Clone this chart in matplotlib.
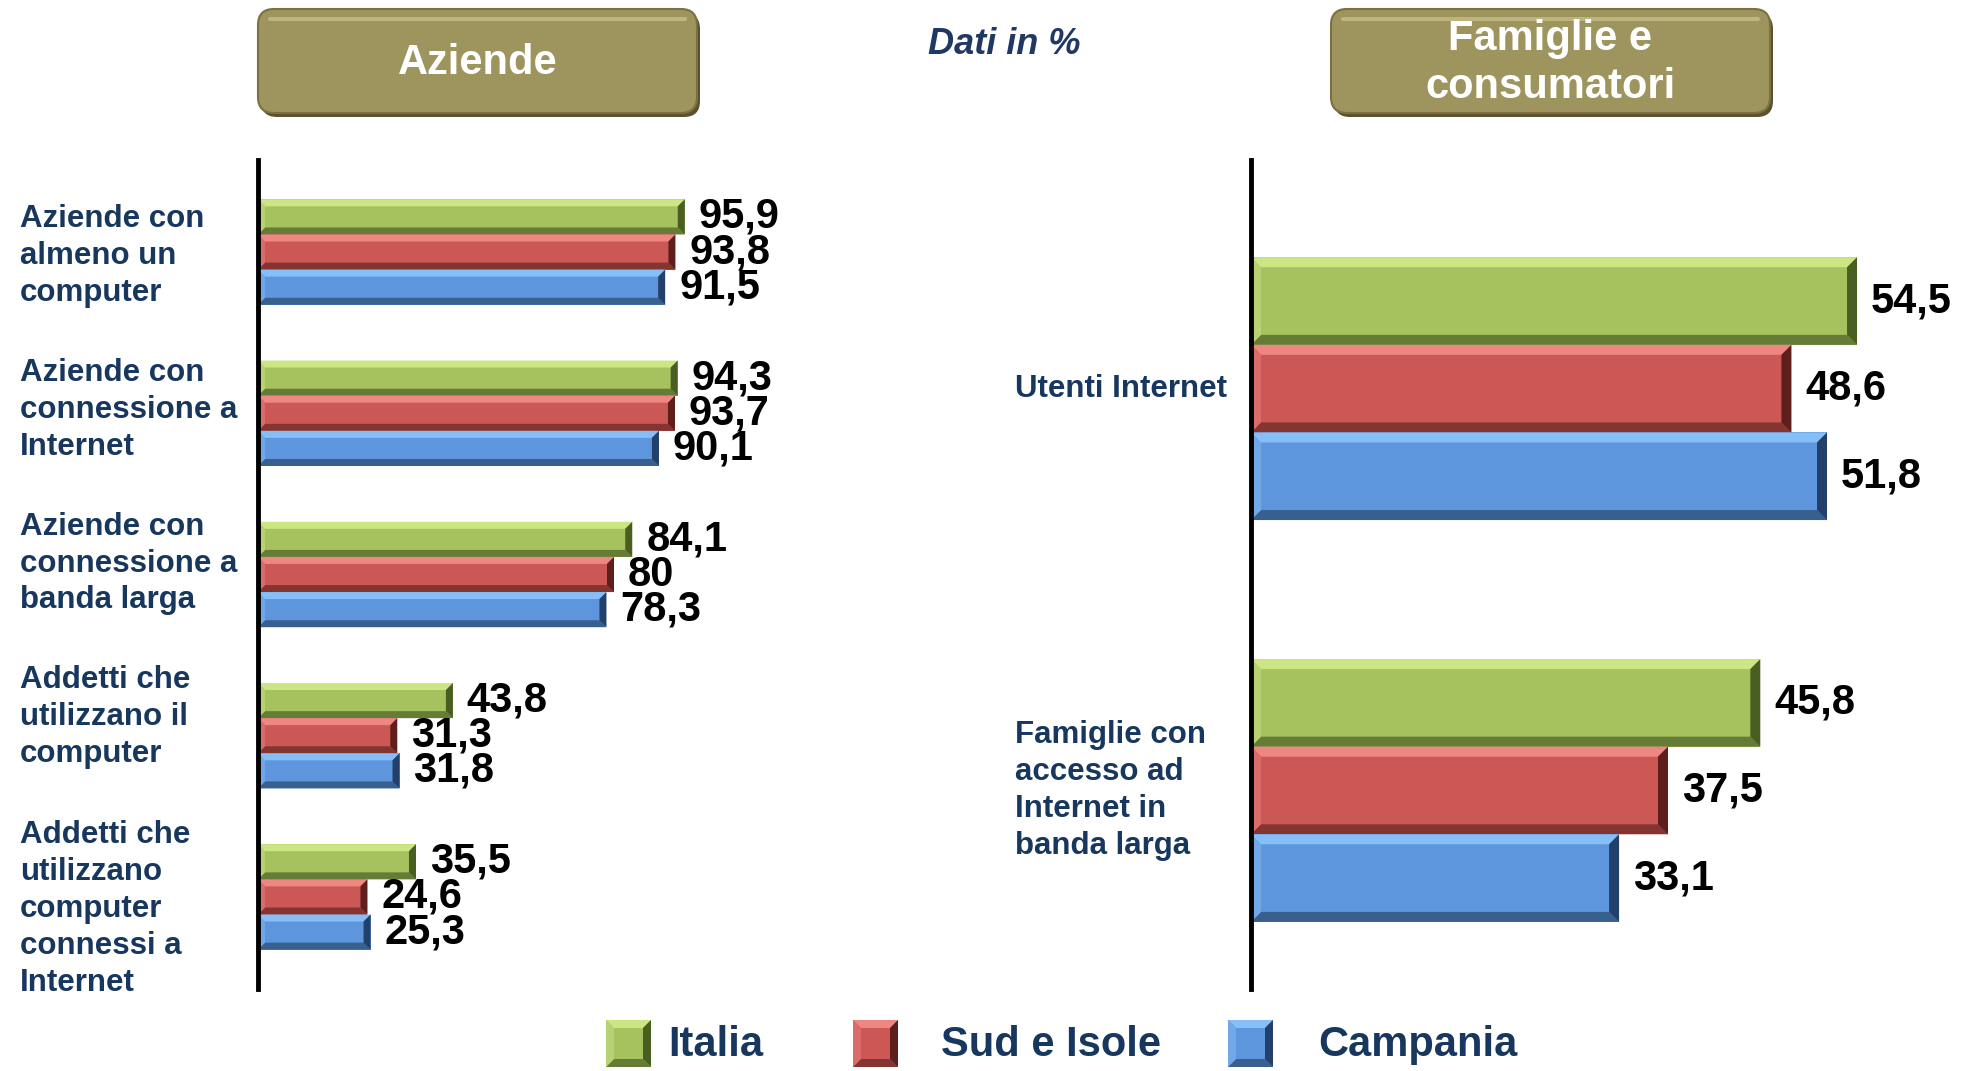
import matplotlib
matplotlib.use("Agg")
import matplotlib.pyplot as plt
import matplotlib.font_manager as fm
from matplotlib.patches import Polygon, FancyBboxPatch, Rectangle
from matplotlib.transforms import IdentityTransform, blended_transform_factory, offset_copy
import numpy as np

# ---------------- data ----------------
series = ["Italia", "Sud e Isole", "Campania"]
left_categories = ["Aziende con\nalmeno un\ncomputer",
                   "Aziende con\nconnessione a\nInternet",
                   "Aziende con\nconnessione a\nbanda larga",
                   "Addetti che\nutilizzano il\ncomputer",
                   "Addetti che\nutilizzano\ncomputer\nconnessi a\nInternet"]
italia_aziende = [95.9, 94.3, 84.1, 43.8, 35.5]
sud_aziende = [93.8, 93.7, 80, 31.3, 24.6]
campania_aziende = [91.5, 90.1, 78.3, 31.8, 25.3]

right_categories = ["Utenti Internet",
                    "Famiglie con\naccesso ad\nInternet in\nbanda larga"]
italia_famiglie = [54.5, 45.8]
sud_famiglie = [48.6, 37.5]
campania_famiglie = [51.8, 33.1]

titles = ["Aziende", "Famiglie e\nconsumatori"]
note = "Dati in %"

# ---------------- layout / style ----------------
W, H = 1975, 1071
# vertical nudges (pixels, downward positive) of the category text boxes
left_label_nudge = [4, -3, -11, -19, 12]
right_label_nudge = [0, 0]

names = {f.name for f in fm.fontManager.ttflist}
NARROW = "Liberation Sans Narrow" if "Liberation Sans Narrow" in names else None
REG = "Liberation Sans"
NAVY = "#17375E"

base_cols = ["#A5C25F", "#CC5855", "#5D96DC"]
light_cols = ["#CDE684", "#EE8682", "#86BEF8"]
side_cols = ["#B8D273", "#DA6C69", "#72A8E8"]
dark_cols = ["#657C36", "#843431", "#37608F"]
rdark_cols = ["#4A5E22", "#5E1E1C", "#22406A"]

fig = plt.figure(figsize=(W / 100, H / 100), dpi=100)


def ax_rect(x0, y0, x1, y1):
    return [x0 / W, 1 - y1 / H, (x1 - x0) / W, (y1 - y0) / H]


def bevel_px(L, B, R, Tp, i, b):
    return [
        ([(L, Tp), (R, Tp), (R - b, Tp - b), (L + b, Tp - b)], light_cols[i]),
        ([(L, B), (R, B), (R - b, B + b), (L + b, B + b)], dark_cols[i]),
        ([(R, Tp), (R, B), (R - b, B + b), (R - b, Tp - b)], rdark_cols[i]),
        ([(L, Tp), (L, B), (L + b, B + b), (L + b, Tp - b)], side_cols[i]),
    ]


def add_bevel(ax, rect, i, bpx):
    x0, y0 = rect.get_x(), rect.get_y()
    x1, y1 = x0 + rect.get_width(), y0 + rect.get_height()
    T = ax.transData
    (px0, py0), (px1, py1) = T.transform([(x0, y0), (x1, y1)])
    L, R = min(px0, px1), max(px0, px1)
    B, Tp = min(py0, py1), max(py0, py1)
    b = min(bpx, (Tp - B) * 0.25, (R - L) * 0.3)
    inv = T.inverted()
    for poly, col in bevel_px(L, B, R, Tp, i, b):
        ax.add_patch(Polygon(inv.transform(poly), closed=True, facecolor=col,
                             edgecolor="none", zorder=2))


def fmt(v):
    return f"{v:g}".replace(".", ",")


if NARROW:
    val_font = dict(family=NARROW, size=34, weight="bold")
    leg_font = dict(family=NARROW, size=36, weight="bold")
else:
    val_font = dict(family=REG, size=30, weight="bold")
    leg_font = dict(family=REG, size=30, weight="bold")


def panel(axpos, cats, vals, xmax, ylim, label_x, bpx, nudges):
    ax = fig.add_axes(axpos)
    n = len(cats)
    y = np.arange(n)
    h = 0.218
    ax.set_xlim(0, xmax)
    ax.set_ylim(*ylim)
    for i, v in enumerate(vals):
        bars = ax.barh(y + (i - 1) * h, v, height=h, color=base_cols[i],
                       edgecolor="none", zorder=1.5)
        for rect, val, yy in zip(bars, v, y + (i - 1) * h):
            add_bevel(ax, rect, i, bpx)
            ax.annotate(fmt(val), xy=(val, yy), xytext=(10, 0),
                        textcoords="offset points", ha="left", va="center",
                        color="black", zorder=4, **val_font)
    for s in ["top", "right", "bottom"]:
        ax.spines[s].set_visible(False)
    ax.spines["left"].set_linewidth(3.5)
    ax.spines["left"].set_color("black")
    ax.spines["left"].set_zorder(5)
    ax.set_xticks([])
    ax.set_yticks([])
    ax.patch.set_alpha(0)
    tr = blended_transform_factory(fig.transFigure, ax.transData)
    for cat, yy, nd in zip(cats, y, nudges):
        t = offset_copy(tr, fig=fig, x=0, y=-nd, units="dots")
        ax.text(label_x / W, yy, cat, transform=t, ha="left", va="center",
                color=NAVY, family=REG, weight="bold", size=22.5,
                linespacing=1.3, clip_on=False)
    return ax


panel(ax_rect(258, 160, 258 + 4.45 * 100, 989), left_categories,
      [italia_aziende, sud_aziende, campania_aziende], 100, (4.571, -0.571), 20, 7,
      left_label_nudge)
panel(ax_rect(1251, 160, 1251 + 11.12 * 62, 989), right_categories,
      [italia_famiglie, sud_famiglie, campania_famiglie], 62, (1.494, -0.569), 1015, 10,
      right_label_nudge)

# ---------------- header boxes ----------------
ident = IdentityTransform()


def header(x0, x1, y0, y1, text):
    w, hgt = x1 - x0, y1 - y0
    sh = FancyBboxPatch((x0 + 3, H - y1 - 4), w, hgt,
                        boxstyle="round,pad=0,rounding_size=16",
                        transform=ident, facecolor="#5A5230", edgecolor="none")
    fig.patches.append(sh)
    bx = FancyBboxPatch((x0, H - y1), w, hgt,
                        boxstyle="round,pad=0,rounding_size=16",
                        transform=ident, facecolor="#9E945E",
                        edgecolor="#7A7040", linewidth=1.5)
    fig.patches.append(bx)
    hl = FancyBboxPatch((x0 + 10, H - y0 - 12), w - 20, 4,
                        boxstyle="round,pad=0,rounding_size=2",
                        transform=ident, facecolor="#BDB480", edgecolor="none")
    fig.patches.append(hl)
    fig.text((x0 + x1) / 2 / W, 1 - 63 / H, text, ha="center",
             va="center", color="white", family=REG, weight="bold", size=30,
             linespacing=1.25)


header(258, 697, 9, 113, titles[0])
header(1331, 1770, 9, 113, titles[1])

fig.text(1004 / W, 1 - 45 / H, note, ha="center", va="center", color="#1F3864",
         family=REG, weight="bold", style="italic", size=26)

# ---------------- legend ----------------
sq_x = [606, 853, 1228]
txt_x = [668, 941, 1318]
for i, name in enumerate(series):
    L, R = sq_x[i], sq_x[i] + 45
    Tp, B = H - 1020, H - 1067
    fig.patches.append(Rectangle((L, B), R - L, Tp - B, transform=ident,
                                 facecolor=base_cols[i], edgecolor="none"))
    b = 8
    for poly, col in bevel_px(L, B, R, Tp, i, b):
        fig.patches.append(Polygon(poly, closed=True, transform=ident,
                                   facecolor=col, edgecolor="none"))
    fig.text(txt_x[i] / W, 1 - 1045 / H, name, ha="left", va="center",
             color=NAVY, **leg_font)

fig.savefig("out.png", dpi=100)
